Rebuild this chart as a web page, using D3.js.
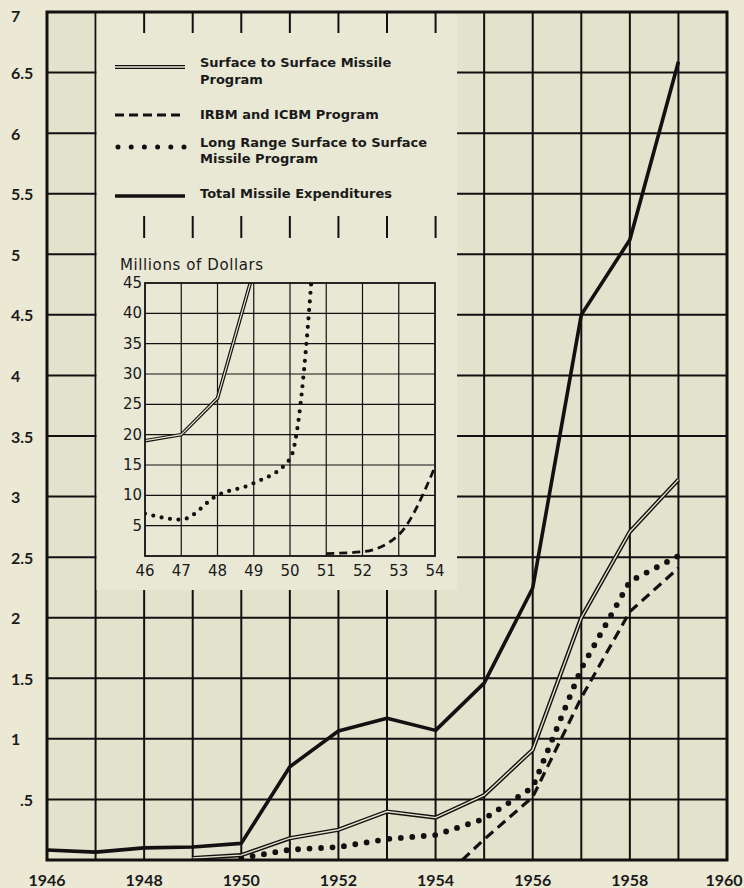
<!DOCTYPE html>
<html>
<head>
<meta charset="utf-8">
<script src="https://cdn.jsdelivr.net/npm/d3@7"></script>
<style>
  html, body { margin: 0; padding: 0; background: #ebe9d4; }
  svg { display: block; }
</style>
</head>
<body>
<svg id="chart" width="744" height="888"></svg>
<script>
// Missile expenditures, billions of dollars (main chart)
const years = [1946, 1947, 1948, 1949, 1950, 1951, 1952, 1953, 1954, 1955, 1956, 1957, 1958, 1959];
const totalVals = [0.083, 0.065, 0.10, 0.107, 0.137, 0.77, 1.065, 1.17, 1.07, 1.46, 2.245, 4.5, 5.12, 6.59];

const surfaceYears = [1949, 1950, 1951, 1952, 1953, 1954, 1955, 1956, 1957, 1958, 1959];
const surfaceVals = [0.016, 0.04, 0.18, 0.25, 0.40, 0.35, 0.535, 0.91, 2.0, 2.71, 3.14];

const irbmYears = [1954.55, 1955, 1956, 1957, 1958, 1959];
const irbmVals = [0, 0.17, 0.52, 1.34, 2.05, 2.41];

const longYears = [1950, 1951, 1952, 1953, 1954, 1955, 1956, 1957, 1958, 1959];
const longVals = [0.016, 0.085, 0.107, 0.173, 0.206, 0.34, 0.6, 1.58, 2.30, 2.51];

const yTicks = [0.5, 1, 1.5, 2, 2.5, 3, 3.5, 4, 4.5, 5, 5.5, 6, 6.5, 7];
const xTicks = [1946, 1948, 1950, 1952, 1954, 1956, 1958, 1960];

// Inset, millions of dollars
const insetSurfaceYears = [46, 47, 48, 49];
const insetSurfaceVals = [19, 20, 26, 47];
const insetLongYears = [46, 47, 48, 49, 50, 51];
const insetLongVals = [7, 6, 10, 12, 16, 83];
const insetIrbmYears = [51, 52, 53, 54];
const insetIrbmVals = [0.4, 0.7, 3.5, 14.7];
const insetYTicks = [5, 10, 15, 20, 25, 30, 35, 40, 45];
const insetXTicks = [46, 47, 48, 49, 50, 51, 52, 53, 54];

const ink = '#111';
const paper = '#e3e2cc';
const blank = '#e9e8d5';
const svg = d3.select('#chart');

const x = d3.scaleLinear().domain([1946, 1960]).range([47, 727]);
const y = d3.scaleLinear().domain([0, 7]).range([860, 12]);

// plot background
svg.append('rect')
    .attr('x', x(1946)).attr('y', y(7))
    .attr('width', x(1960) - x(1946)).attr('height', y(0) - y(7))
    .attr('fill', paper);

// grid
svg.append('g').selectAll('line')
    .data(d3.range(1947, 1960))
    .join('line')
    .attr('x1', d => x(d)).attr('x2', d => x(d))
    .attr('y1', y(7)).attr('y2', y(0))
    .attr('stroke', ink).attr('stroke-width', 2);

svg.append('g').selectAll('line')
    .data(yTicks.filter(d => d < 7))
    .join('line')
    .attr('x1', x(1946)).attr('x2', x(1960))
    .attr('y1', d => y(d)).attr('y2', d => y(d))
    .attr('stroke', ink).attr('stroke-width', 2);

// blank area holding the legend and inset
svg.append('rect')
    .attr('x', x(1947) + 1).attr('y', y(7))
    .attr('width', 457 - x(1947) - 1).attr('height', 590 - y(7))
    .attr('fill', blank);

// tick stubs across the blank area
const stubYears = d3.range(1948, 1955);
[[y(7), 33], [216, 238]].forEach(([a, b]) => {
    svg.append('g').selectAll('line')
        .data(stubYears)
        .join('line')
        .attr('x1', d => x(d)).attr('x2', d => x(d))
        .attr('y1', a).attr('y2', b)
        .attr('stroke', ink).attr('stroke-width', 2);
});

// series
const line = (xs, ys) => d3.line()
    .x((d, i) => x(xs[i]))
    .y(d => y(d))(ys);

const series = svg.append('g').attr('fill', 'none');

series.append('path')
    .attr('d', line(irbmYears, irbmVals))
    .attr('stroke', ink).attr('stroke-width', 3.2)
    .attr('stroke-dasharray', '10,6');

series.append('path')
    .attr('d', line(longYears, longVals))
    .attr('stroke', ink).attr('stroke-width', 5.8)
    .attr('stroke-linecap', 'round')
    .attr('stroke-dasharray', '0,11.5');

series.append('path')
    .attr('d', line(surfaceYears, surfaceVals))
    .attr('stroke', ink).attr('stroke-width', 4.2);
series.append('path')
    .attr('d', line(surfaceYears, surfaceVals))
    .attr('stroke', paper).attr('stroke-width', 1.4);

series.append('path')
    .attr('d', line(years, totalVals))
    .attr('stroke', ink).attr('stroke-width', 3.6)
    .attr('stroke-linejoin', 'round');

// frame
svg.append('rect')
    .attr('x', x(1946)).attr('y', y(7))
    .attr('width', x(1960) - x(1946)).attr('height', y(0) - y(7))
    .attr('fill', 'none').attr('stroke', ink).attr('stroke-width', 3);

// axis labels
svg.append('g').selectAll('text')
    .data(yTicks)
    .join('text')
    .attr('x', d => d < 1 ? 20 : 11)
    .attr('y', d => Math.max(y(d), 15))
    .attr('dominant-baseline', 'central')
    .attr('font-family', 'Lato, sans-serif')
    .attr('font-weight', 'bold')
    .attr('font-size', 16)
    .attr('fill', '#1a1a1a')
    .text(d => d < 1 ? '.5' : d);

svg.append('g').selectAll('text')
    .data(xTicks)
    .join('text')
    .attr('x', d => Math.min(x(d), 724))
    .attr('y', 886)
    .attr('text-anchor', 'middle')
    .attr('font-family', 'Lato, sans-serif')
    .attr('font-weight', 'bold')
    .attr('font-size', 16)
    .attr('fill', '#1a1a1a')
    .text(d => d);

// legend
const legend = svg.append('g')
    .attr('font-family', '"DejaVu Sans", sans-serif')
    .attr('font-weight', 'bold')
    .attr('font-size', 13)
    .attr('fill', '#1a1a1a');

const lx0 = 115, lx1 = 185, tx = 200;
legend.append('line').attr('x1', lx0).attr('x2', lx1).attr('y1', 67).attr('y2', 67)
    .attr('stroke', ink).attr('stroke-width', 4.2);
legend.append('line').attr('x1', lx0).attr('x2', lx1).attr('y1', 67).attr('y2', 67)
    .attr('stroke', blank).attr('stroke-width', 1.4);
legend.append('line').attr('x1', lx0).attr('x2', lx1).attr('y1', 115).attr('y2', 115)
    .attr('stroke', ink).attr('stroke-width', 3.2).attr('stroke-dasharray', '9,5');
legend.append('line').attr('x1', lx0 + 3).attr('x2', lx1).attr('y1', 147).attr('y2', 147)
    .attr('stroke', ink).attr('stroke-width', 5).attr('stroke-linecap', 'round')
    .attr('stroke-dasharray', '0,13.2');
legend.append('line').attr('x1', lx0).attr('x2', lx1).attr('y1', 196).attr('y2', 196)
    .attr('stroke', ink).attr('stroke-width', 3.4);

[['Surface to Surface Missile', 67], ['Program', 84],
 ['IRBM and ICBM Program', 119],
 ['Long Range Surface to Surface', 147], ['Missile Program', 163],
 ['Total Missile Expenditures', 198]].forEach(([t, ty]) => {
    legend.append('text').attr('x', tx).attr('y', ty).text(t);
});

// inset
const ix = d3.scaleLinear().domain([46, 54]).range([145, 435]);
const iy = d3.scaleLinear().domain([0, 45]).range([556, 283]);
const inset = svg.append('g');

svg.append('defs').append('clipPath').attr('id', 'insetClip')
    .append('rect')
    .attr('x', ix(46)).attr('y', iy(45))
    .attr('width', ix(54) - ix(46)).attr('height', iy(0) - iy(45));

inset.append('g').selectAll('line')
    .data(insetXTicks.slice(1, -1))
    .join('line')
    .attr('x1', d => ix(d)).attr('x2', d => ix(d))
    .attr('y1', iy(45)).attr('y2', iy(0))
    .attr('stroke', ink).attr('stroke-width', 1.2);
inset.append('g').selectAll('line')
    .data(insetYTicks.slice(0, -1))
    .join('line')
    .attr('x1', ix(46)).attr('x2', ix(54))
    .attr('y1', d => iy(d)).attr('y2', d => iy(d))
    .attr('stroke', ink).attr('stroke-width', 1.2);

const iline = (xs, ys) => d3.line()
    .x((d, i) => ix(xs[i]))
    .y(d => iy(d))
    .curve(d3.curveMonotoneX)(ys);

const iseries = inset.append('g').attr('fill', 'none').attr('clip-path', 'url(#insetClip)');
iseries.append('path')
    .attr('d', iline(insetIrbmYears, insetIrbmVals))
    .attr('stroke', ink).attr('stroke-width', 2.8).attr('stroke-dasharray', '8,5');
iseries.append('path')
    .attr('d', iline(insetLongYears, insetLongVals))
    .attr('stroke', ink).attr('stroke-width', 4.2)
    .attr('stroke-linecap', 'round').attr('stroke-dasharray', '0,8.5');
iseries.append('path')
    .attr('d', d3.line().x((d, i) => ix(insetSurfaceYears[i])).y(d => iy(d))(insetSurfaceVals))
    .attr('stroke', ink).attr('stroke-width', 3.6);
iseries.append('path')
    .attr('d', d3.line().x((d, i) => ix(insetSurfaceYears[i])).y(d => iy(d))(insetSurfaceVals))
    .attr('stroke', blank).attr('stroke-width', 1.2);

inset.append('rect')
    .attr('x', ix(46)).attr('y', iy(45))
    .attr('width', ix(54) - ix(46)).attr('height', iy(0) - iy(45))
    .attr('fill', 'none').attr('stroke', ink).attr('stroke-width', 1.8);

const insetText = inset.append('g')
    .attr('font-family', '"DejaVu Sans", sans-serif')
    .attr('font-size', 15)
    .attr('fill', '#1a1a1a');

insetText.selectAll('.iy')
    .data(insetYTicks)
    .join('text')
    .attr('class', 'iy')
    .attr('x', ix(46) - 3)
    .attr('y', d => iy(d))
    .attr('text-anchor', 'end')
    .attr('dominant-baseline', 'central')
    .text(d => d);

insetText.selectAll('.ix')
    .data(insetXTicks)
    .join('text')
    .attr('class', 'ix')
    .attr('x', d => ix(d))
    .attr('y', 576)
    .attr('text-anchor', 'middle')
    .text(d => d);

insetText.append('text')
    .attr('x', 120).attr('y', 270)
    .attr('font-size', 15)
    .attr('letter-spacing', 0.6)
    .text('Millions of Dollars');
</script>
</body>
</html>
